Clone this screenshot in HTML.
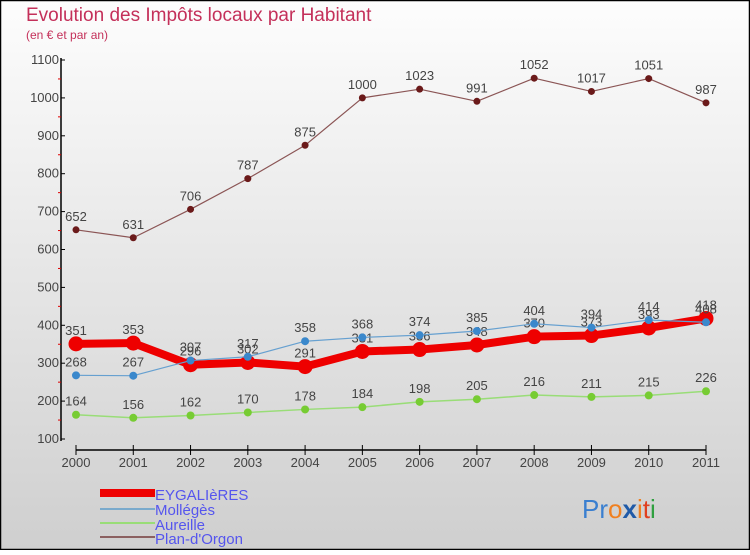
<!DOCTYPE html>
<html><head><meta charset="utf-8"><style>
body{margin:0}
svg text{font-family:"Liberation Sans",sans-serif}
</style></head><body>
<svg id="c" width="750" height="550" xmlns="http://www.w3.org/2000/svg">
<defs><linearGradient id="bg" x1="0" y1="0" x2="0" y2="1"><stop offset="0" stop-color="#fdfdfd"/><stop offset="1" stop-color="#cfcfcf"/></linearGradient></defs>
<rect x="0.5" y="0.5" width="749" height="549" fill="url(#bg)" stroke="#000" stroke-width="1.5"/>
<text x="26" y="21" font-size="19" fill="#c4305a">Evolution des Impôts locaux par Habitant</text>
<text x="26" y="39" font-size="12" fill="#c4305a">(en € et par an)</text>
<g id="axes"></g><g id="series"></g>
<g>
<rect x="100" y="489" width="55" height="8" fill="#e00"/>
<text x="155" y="500" font-size="15" fill="#5555ee">EYGALIèRES</text>
<rect x="100" y="508" width="55" height="2" fill="#7aaacc"/>
<text x="155" y="515" font-size="15" fill="#5555ee">Mollégès</text>
<rect x="100" y="522" width="55" height="2" fill="#99dd77"/>
<text x="155" y="530" font-size="15" fill="#5555ee">Aureille</text>
<rect x="100" y="536" width="55" height="2" fill="#8b6060"/>
<text x="155" y="544" font-size="15" fill="#5555ee">Plan-d'Orgon</text>
</g>
<text x="582" y="518" font-size="26"><tspan fill="#3a7fd0">Pr</tspan><tspan fill="#f08020">o</tspan><tspan fill="#1f5aa8" font-weight="bold">x</tspan><tspan fill="#f08020">i</tspan><tspan fill="#e04020">t</tspan><tspan fill="#30a040">i</tspan></text>
</svg>
<script>
const years=[2000,2001,2002,2003,2004,2005,2006,2007,2008,2009,2010,2011];
const yTicks=[100,200,300,400,500,600,700,800,900,1000,1100];
const eyg=[351,353,296,302,291,331,336,348,370,373,393,418];
const mol=[268,267,307,317,358,368,374,385,404,394,414,408];
const aur=[164,156,162,170,178,184,198,205,216,211,215,226];
const plan=[652,631,706,787,875,1000,1023,991,1052,1017,1051,987];
const NS='http://www.w3.org/2000/svg';
const X=i=>76+i*(630/11);
const Y=v=>439-(v-100)*0.379;
function mk(t,a,p){const e=document.createElementNS(NS,t);for(const k in a)e.setAttribute(k,a[k]);p.appendChild(e);return e;}
const ax=document.getElementById('axes');
let e=mk('line',{x1:61,y1:58,x2:61,y2:441,stroke:'#000','stroke-width':1.5},ax);


e=mk('line',{x1:76,y1:450,x2:706,y2:450,stroke:'#000','stroke-width':1.5},ax);


yTicks.forEach((v,i)=>{
  mk('line',{x1:61,y1:Y(v),x2:65,y2:Y(v),stroke:'#000'},ax);
  if(i<yTicks.length-1)mk('line',{x1:58,y1:Y(v+50),x2:61,y2:Y(v+50),stroke:'#d00'},ax);
  const t=mk('text',{x:59,y:Y(v)+4,'font-size':13,'text-anchor':'end',fill:'#444'},ax);t.textContent=v;
  
  
});
years.forEach((y,i)=>{
  mk('line',{x1:X(i),y1:445,x2:X(i),y2:455,stroke:'#000'},ax);
  const t=mk('text',{x:X(i),y:467,'font-size':13,'text-anchor':'middle',fill:'#444'},ax);t.textContent=y;
  
  
});
const sg=document.getElementById('series');
function series(vals,name,color,w,r,dot){
  const g=mk('g',{},sg);
  
  
  const p=mk('polyline',{points:vals.map((v,i)=>X(i)+','+Y(v)).join(' '),fill:'none',stroke:color,'stroke-width':w,'stroke-linejoin':'round'},g);
  
  
  vals.forEach((v,i)=>{
    const c=mk('circle',{cx:X(i),cy:Y(v),r:r,fill:dot},g);
    
    
    const t=mk('text',{x:X(i),y:Y(v)-9,'font-size':13,'text-anchor':'middle',fill:'#444'},g);t.textContent=v;
    
    
  });
}
series(plan,'plan-dorgon','#8b5555',1.2,3.5,'#6b1a1a');
series(aur,'aureille','#99dd77',1.5,4,'#77cc33');
series(eyg,'eygalieres','#ee0000',8,7.5,'#ee0000');
series(mol,'molleges','#66a0d0',1.2,4,'#3a88cc');
</script>
</body></html>
